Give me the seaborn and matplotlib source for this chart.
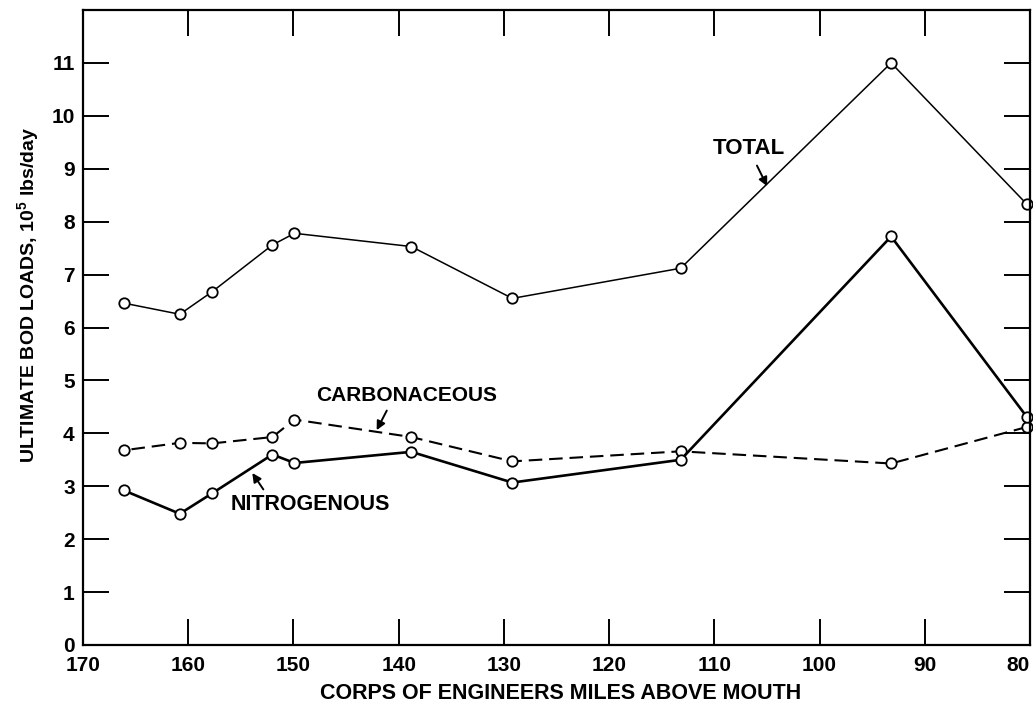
import matplotlib
matplotlib.use("Agg")
import matplotlib.pyplot as plt
import seaborn as sns
import pandas as pd

# River mile stations (Corps of Engineers miles above mouth)
miles = [166.1, 160.8, 157.7, 152.0, 149.9, 138.8, 129.2, 113.2, 93.2, 80.3]

# Ultimate BOD loads, 10^5 lbs/day
total = [6.46, 6.25, 6.68, 7.56, 7.78, 7.53, 6.55, 7.12, 11.0, 8.33]
carbonaceous = [3.68, 3.82, 3.81, 3.93, 4.26, 3.93, 3.47, 3.66, 3.43, 4.12]
nitrogenous = [2.92, 2.48, 2.87, 3.60, 3.44, 3.65, 3.07, 3.50, 7.72, 4.31]

x_ticks = [170, 160, 150, 140, 130, 120, 110, 100, 90, 80]
y_ticks = [0, 1, 2, 3, 4, 5, 6, 7, 8, 9, 10, 11]

sns.set_style("white")
plt.rcParams["font.family"] = ["Liberation Sans", "DejaVu Sans"]
plt.rcParams["mathtext.default"] = "regular"
for key in ["text.color", "axes.labelcolor", "xtick.color", "ytick.color",
            "axes.edgecolor"]:
    plt.rcParams[key] = "black"

df = pd.DataFrame({"mile": miles, "total": total,
                   "carb": carbonaceous, "nitro": nitrogenous})

fig = plt.figure(figsize=(10.33, 7.13), dpi=100)
ax = fig.add_axes([83 / 1033, 68 / 713, 947 / 1033, 635 / 713])

marker_kw = dict(marker="o", markersize=7.5, markerfacecolor="white",
                 markeredgecolor="black", markeredgewidth=1.3,
                 color="black", clip_on=False)

sns.lineplot(data=df, x="mile", y="total", ax=ax, linewidth=1.1, **marker_kw)
sns.lineplot(data=df, x="mile", y="carb", ax=ax, linewidth=1.5,
             linestyle=(0, (6.5, 3.3)), **marker_kw)
sns.lineplot(data=df, x="mile", y="nitro", ax=ax, linewidth=1.9, **marker_kw)

ax.set_xlim(170, 80)
ax.set_ylim(0, 12)
ax.set_xticks(x_ticks)
ax.set_yticks(y_ticks)
ax.set_xticklabels([str(v) for v in x_ticks])
ax.set_yticklabels([str(v) for v in y_ticks])

for side in ["left", "right", "top", "bottom"]:
    ax.spines[side].set_visible(True)
    ax.spines[side].set_linewidth(1.6)
    ax.spines[side].set_color("black")

ax.tick_params(axis="both", which="major", direction="in", length=19,
               width=1.4, color="black", labelsize=15,
               left=True, bottom=True, top=True, right=True,
               labeltop=False, labelright=False)
ax.tick_params(axis="x", pad=8)
ax.tick_params(axis="y", pad=6)
for lab in ax.get_xticklabels() + ax.get_yticklabels():
    lab.set_fontweight("bold")
# keep the last mile label inside the frame
ax.get_xticklabels()[-1].set_ha("right")

ax.set_xlabel("CORPS OF ENGINEERS MILES ABOVE MOUTH", fontsize=15.5,
              fontweight="bold")
ax.set_ylabel("ULTIMATE BOD LOADS, 10$^5$ lbs/day", fontsize=14,
              fontweight="bold")
ax.xaxis.label.set_va("center")
ax.yaxis.label.set_va("center")
ax.xaxis.set_label_coords(0.504, -0.076)
ax.yaxis.set_label_coords(-0.058, 0.551)

arrow = dict(arrowstyle="-|>", color="black", lw=1.4, mutation_scale=13,
             shrinkA=0, shrinkB=0)
ax.text(106.7, 9.38, "TOTAL", fontsize=16, fontweight="bold",
        ha="center", va="center")
ax.annotate("", xy=(104.98, 8.67), xytext=(105.95, 9.06), arrowprops=arrow)
ax.text(139.25, 4.72, "CARBONACEOUS", fontsize=15, fontweight="bold",
        ha="center", va="center")
ax.annotate("", xy=(142.09, 4.06), xytext=(141.13, 4.43), arrowprops=arrow)
ax.text(148.37, 2.66, "NITROGENOUS", fontsize=15.5, fontweight="bold",
        ha="center", va="center")
ax.annotate("", xy=(153.91, 3.25), xytext=(152.86, 2.94), arrowprops=arrow)

fig.savefig("out.png", dpi=100)
